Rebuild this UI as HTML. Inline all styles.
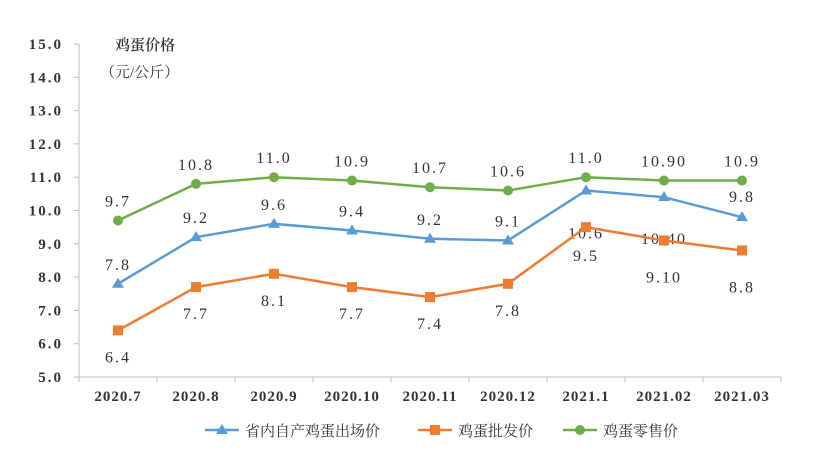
<!DOCTYPE html>
<html><head><meta charset="utf-8">
<style>
html,body{margin:0;padding:0;background:#fff;}
svg{display:block;}
text{font-family:"Liberation Serif","Noto Serif CJK SC",serif;fill:#333;}
</style></head>
<body>
<svg id="chart" width="822" height="457" viewBox="0 0 822 457" xmlns="http://www.w3.org/2000/svg">
<g id="axes"></g>
<g id="series"></g>
<text x="115" y="50" font-size="15" font-weight="600" font-family="Noto Sans CJK SC, sans-serif">鸡蛋价格</text>
<text x="100" y="77" font-size="15" font-family="Noto Sans CJK SC, sans-serif">（元/公斤）</text>
<g id="legend"></g>
</svg>
<script>
const categories=["2020.7","2020.8","2020.9","2020.10","2020.11","2020.12","2021.1","2021.02","2021.03"];
const blueValues=[7.8,9.2,9.6,9.4,9.15,9.1,10.6,10.4,9.8];
const blueLabels=["7.8","9.2","9.6","9.4","9.2","9.1","10.6","10.40","9.8"];
const orangeValues=[6.4,7.7,8.1,7.7,7.4,7.8,9.5,9.1,8.8];
const orangeLabels=["6.4","7.7","8.1","7.7","7.4","7.8","9.5","9.10","8.8"];
const greenValues=[9.7,10.8,11.0,10.9,10.7,10.6,11.0,10.9,10.9];
const greenLabels=["9.7","10.8","11.0","10.9","10.7","10.6","11.0","10.90","10.9"];
const yTicks=[5,6,7,8,9,10,11,12,13,14,15];
const seriesNames=["省内自产鸡蛋出场价","鸡蛋批发价","鸡蛋零售价"];

const NS="http://www.w3.org/2000/svg";
const x0=79,x1=781,yBase=377,yTop=44;
const step=(x1-x0)/categories.length;
const xs=i=>x0+step*(i+0.5);
const ys=v=>yBase-(v-5)/10*(yBase-yTop);
function mk(tag,attrs,parent,txt){const e=document.createElementNS(NS,tag);for(const k in attrs)e.setAttribute(k,attrs[k]);if(txt!==undefined)e.textContent=txt;parent.appendChild(e);return e;}

const axes=document.getElementById('axes');
let a=mk('line',{x1:x0,y1:yTop,x2:x0,y2:yBase,stroke:'#bfbfbf','stroke-width':1},axes);


a=mk('line',{x1:x0,y1:yBase,x2:x1,y2:yBase,stroke:'#bfbfbf','stroke-width':1},axes);


yTicks.forEach(v=>{
  const y=ys(v);
  const t=mk('line',{x1:x0-5,y1:y,x2:x0,y2:y,stroke:'#bfbfbf'},axes);
  
  
  const l=mk('text',{x:63,y:y+5,'font-size':15,'text-anchor':'end','letter-spacing':'2','font-weight':'600'},axes,v.toFixed(1));
  
  
});
for(let i=0;i<=categories.length;i++){
  const x=x0+step*i;
  const t=mk('line',{x1:x,y1:yBase,x2:x,y2:yBase+5,stroke:'#bfbfbf'},axes);
  
  
}
categories.forEach((c,i)=>{
  const l=mk('text',{x:xs(i),y:yBase+24,'font-size':15,'text-anchor':'middle','letter-spacing':'1','font-weight':'600'},axes,c);
  
  
});

const sg=document.getElementById('series');
function marker(g,type,x,y,color){
  let m;
  if(type==='tri') m=mk('polygon',{points:`${x},${y-6} ${x-6},${y+4} ${x+6},${y+4}`,fill:color},g);
  else if(type==='sq') m=mk('rect',{x:x-5,y:y-5,width:10,height:10,fill:color},g);
  else m=mk('circle',{cx:x,cy:y,r:5,fill:color},g);
  return m;
}
function drawSeries(name,vals,labels,color,type,offsets){
  const g=mk('g',{},sg);
  
  
  const p=mk('polyline',{points:vals.map((v,i)=>xs(i)+','+ys(v)).join(' '),fill:'none',stroke:color,'stroke-width':2.5},g);
  
  
  vals.forEach((v,i)=>{
    const m=marker(g,type,xs(i),ys(v),color);
    
    
    const t=mk('text',{x:xs(i),y:ys(v)+offsets[i],'font-size':16,'text-anchor':'middle','letter-spacing':'2'},g,labels[i]);
    
    
  });
}
drawSeries('green-series',greenValues,greenLabels,'#70ad47','circ',[-14,-14,-14,-14,-14,-14,-14,-14,-14]);
drawSeries('blue-series',blueValues,blueLabels,'#5b9bd5','tri',[-14,-14,-14,-14,-14,-14,48,47,-15]);
drawSeries('orange-series',orangeValues,orangeLabels,'#ed7d31','sq',[32,32,32,32,32,32,34,42,42]);

const lg=document.getElementById('legend');
const items=[[205,'#5b9bd5','tri'],[418,'#ed7d31','sq'],[563,'#70ad47','circ']];
items.forEach((it,i)=>{
  const g=mk('g',{},lg);
  
  
  mk('line',{x1:it[0],y1:430,x2:it[0]+34,y2:430,stroke:it[1],'stroke-width':2.5},g);
  marker(g,it[2],it[0]+17,430,it[1]);
  const t=mk('text',{x:it[0]+40,y:436,'font-size':15,'font-family':'Noto Sans CJK SC, sans-serif'},g,seriesNames[i]);
  
  
});
</script>
</body></html>
